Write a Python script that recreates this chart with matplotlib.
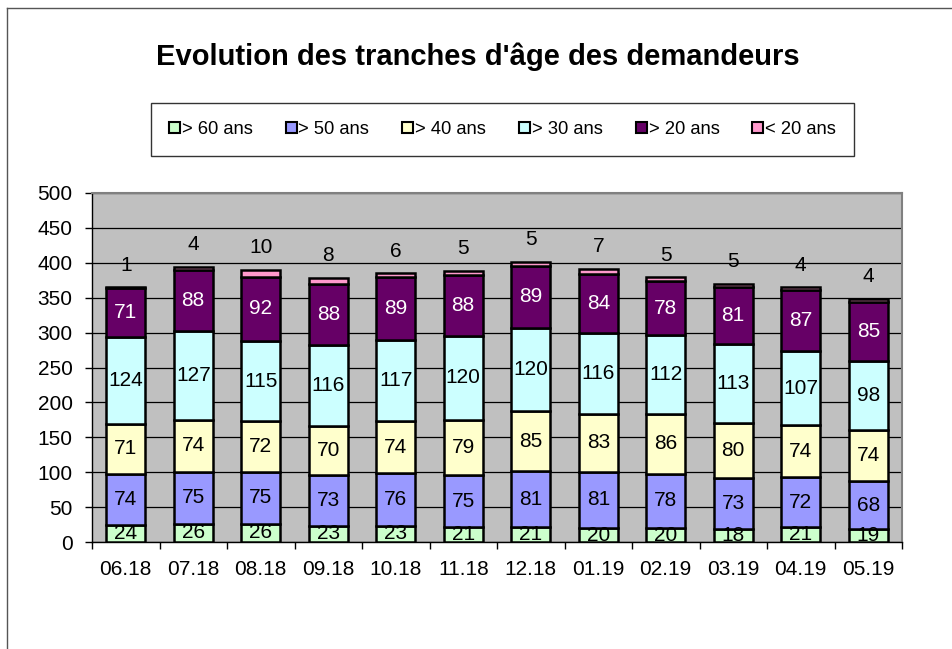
import matplotlib
matplotlib.use("Agg")
from matplotlib import pyplot as plt
from matplotlib.lines import Line2D
from matplotlib.patches import Patch
import numpy as np

plt.rcParams["font.family"] = ["Liberation Sans", "DejaVu Sans"]

mois = ["06.18", "07.18", "08.18", "09.18", "10.18", "11.18",
        "12.18", "01.19", "02.19", "03.19", "04.19", "05.19"]

plus_60 = [24, 26, 26, 23, 23, 21, 21, 20, 20, 18, 21, 19]
plus_50 = [74, 75, 75, 73, 76, 75, 81, 81, 78, 73, 72, 68]
plus_40 = [71, 74, 72, 70, 74, 79, 85, 83, 86, 80, 74, 74]
plus_30 = [124, 127, 115, 116, 117, 120, 120, 116, 112, 113, 107, 98]
plus_20 = [71, 88, 92, 88, 89, 88, 89, 84, 78, 81, 87, 85]
moins_20 = [1, 4, 10, 8, 6, 5, 5, 7, 5, 5, 4, 4]

series = [
    ("> 60 ans", plus_60, "#CCFFCC", "black"),
    ("> 50 ans", plus_50, "#9999FF", "black"),
    ("> 40 ans", plus_40, "#FFFFCC", "black"),
    ("> 30 ans", plus_30, "#CCFFFF", "black"),
    ("> 20 ans", plus_20, "#660066", "white"),
    ("< 20 ans", moins_20, "#FF99CC", "black"),
]

fig = plt.figure(figsize=(9.53, 6.49), dpi=100)
ax = fig.add_axes([92 / 953, 1 - 542 / 649, 810 / 953, 349 / 649])
ax.set_facecolor("#C0C0C0")

x = np.arange(len(mois))
bottom = np.zeros(len(mois))
for i, (nom, vals, coul, txt) in enumerate(series):
    vals = np.array(vals)
    ax.bar(x, vals, 0.58, bottom=bottom, color=coul, edgecolor="black",
           linewidth=1.8, zorder=3, label=nom)
    for xi, b, v in zip(x, bottom, vals):
        if i < len(series) - 1:
            ax.text(xi, b + v / 2, str(v), ha="center", va="center",
                    fontsize=15, color=txt, zorder=4)
        else:
            ax.annotate(str(v), (xi, b + v), xytext=(0, 16),
                        textcoords="offset points", ha="center", va="center",
                        fontsize=15, color="black", zorder=4)
    bottom = bottom + vals

ax.set_xlim(-0.5, len(mois) - 0.5)
ax.set_ylim(0, 500)
ax.set_yticks(range(0, 501, 50))
ax.tick_params(axis="y", labelsize=15, length=5, width=1, pad=9, direction="out")
ax.set_xticks(x)
ax.set_xticklabels(mois)
ax.set_xticks(np.arange(-0.5, len(mois), 1), minor=True)
ax.tick_params(axis="x", which="major", length=0, labelsize=15, pad=13)
ax.tick_params(axis="x", which="minor", length=5, width=1, direction="out")
ax.grid(axis="y", color="black", linewidth=0.9, zorder=1)

for s in ["top", "right"]:
    ax.spines[s].set_color("#808080")
    ax.spines[s].set_linewidth(1.5)
for s in ["left", "bottom"]:
    ax.spines[s].set_color("black")
    ax.spines[s].set_linewidth(1)

handles = [Patch(facecolor=c, edgecolor="black", linewidth=1.5) for _, _, c, _ in series]
leg = fig.legend(handles, [s[0] for s in series], loc="center",
                 bbox_to_anchor=(502.5 / 953, 1 - 129.5 / 649), ncol=6,
                 fontsize=13.2, frameon=True, fancybox=False,
                 handlelength=0.6, handleheight=0.6, handletextpad=0.1,
                 columnspacing=1.8, borderpad=1.0, borderaxespad=0)
leg.get_frame().set_edgecolor("black")
leg.get_frame().set_linewidth(1)

fig.text(478 / 953, 1 - 57 / 649, "Evolution des tranches d'âge des demandeurs",
         ha="center", va="center", fontsize=21, fontweight="bold")

# cadre du graphique
fig.add_artist(Line2D([7.5 / 953, 7.5 / 953], [0, 1 - 7.5 / 649],
                      transform=fig.transFigure, color="#555555", linewidth=1))
fig.add_artist(Line2D([7.5 / 953, 1], [1 - 7.5 / 649, 1 - 7.5 / 649],
                      transform=fig.transFigure, color="#555555", linewidth=1))

fig.savefig("out.png", dpi=100)
